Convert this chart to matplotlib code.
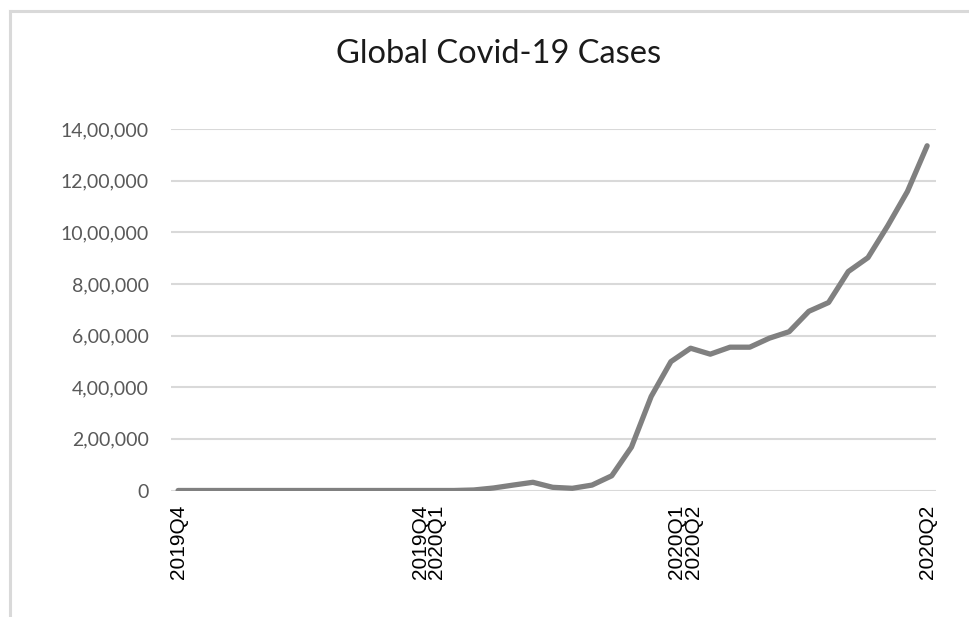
import matplotlib
matplotlib.use("Agg")
import matplotlib.pyplot as plt
from matplotlib.lines import Line2D
from matplotlib.ticker import FuncFormatter, MultipleLocator

# daily global cases, one value per reporting point
cases = [
    0, 0, 0, 0, 0, 0, 0, 0, 0, 0,
    0, 0, 0, 0, 0, 2000, 9700, 21000, 31800, 12400,
    8500, 21000, 57000, 168000, 364000, 499000, 551000, 528000, 555000, 555000,
    590000, 615000, 694000, 728000, 848000, 902000, 1025000, 1158000, 1335000,
]
# quarter labels and where each one sits along the series
quarter_pos = [0, 12.7, 25.7, 38]
quarter_labels = ["2019Q4", "2019Q4\n2020Q1", "2020Q1\n2020Q2", "2020Q2"]


def indian_commas(v, pos=None):
    s = str(int(round(v)))
    if len(s) <= 3:
        return s
    head, tail = s[:-3], s[-3:]
    parts = []
    while len(head) > 2:
        parts.insert(0, head[-2:])
        head = head[:-2]
    if head:
        parts.insert(0, head)
    return ",".join(parts) + "," + tail


W, H = 969, 617
fig = plt.figure(figsize=(W / 100, H / 100), dpi=100)

# chart frame (left and top edges are the only ones visible)
fig.add_artist(Line2D([10 / W, 10 / W], [0, 1 - 11 / H], color="#d9d9d9", lw=2.2))
fig.add_artist(Line2D([10 / W, 1], [1 - 11 / H, 1 - 11 / H], color="#d9d9d9", lw=2.2))

ax = fig.add_axes([171 / W, 1 - 490.5 / H, (936 - 171) / W, (490.5 - 129) / H])

x = list(range(len(cases)))
ax.plot(x, cases, color="#808080", lw=3.8, solid_joinstyle="round",
        solid_capstyle="round", zorder=3)

ax.set_xlim(-0.36, 38.45)
ax.set_ylim(0, 1400000)
ax.yaxis.set_major_locator(MultipleLocator(200000))
ax.yaxis.set_major_formatter(FuncFormatter(indian_commas))
ax.grid(axis="y", color="#d9d9d9", lw=1.5)
ax.set_axisbelow(True)
for side in ax.spines.values():
    side.set_visible(False)

ax.tick_params(axis="y", length=0, pad=16, labelsize=14, labelcolor="#595959")
for lab in ax.get_yticklabels():
    lab.set_fontfamily("Lato")

ax.set_xticks(quarter_pos)
ax.set_xticklabels(quarter_labels, rotation=90, fontsize=15,
                   fontfamily="Liberation Sans", linespacing=0.85)
ax.tick_params(axis="x", length=0, pad=10, labelcolor="black")

fig.text(499 / W, 1 - 54 / H, "Global Covid-19 Cases", ha="center", va="center",
         fontsize=23.5, fontfamily="Lato", color="#1a1a1a")

fig.savefig("out.png", dpi=100)
